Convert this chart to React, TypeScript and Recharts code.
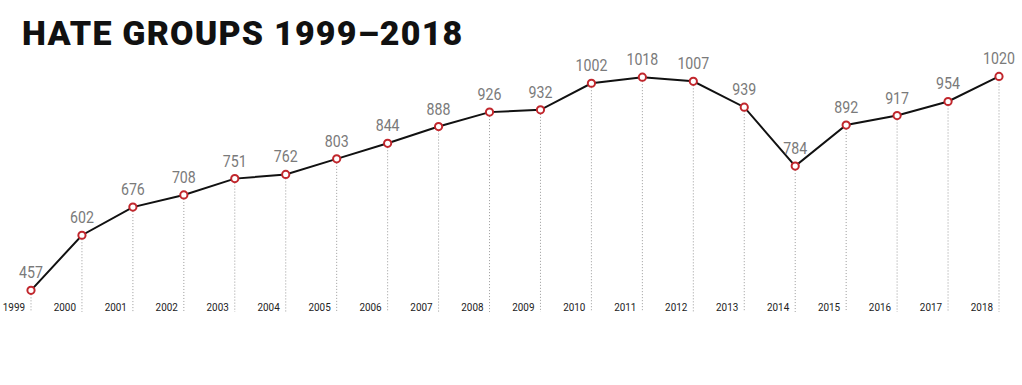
import { LineChart, Line, XAxis, YAxis, LabelList } from 'recharts'

const years = [1999, 2000, 2001, 2002, 2003, 2004, 2005, 2006, 2007, 2008, 2009, 2010, 2011, 2012, 2013, 2014, 2015, 2016, 2017, 2018]
const groups = [457, 602, 676, 708, 751, 762, 803, 844, 888, 926, 932, 1002, 1018, 1007, 939, 784, 892, 917, 954, 1020]

const data = years.map((year, i) => ({ year, groups: groups[i] }))

const RED = '#c1272d'
const PLOT_BOTTOM = 312
const NARROW = "'Liberation Sans Narrow', 'Roboto', sans-serif"

// dot plus the dotted drop line down to the axis
const DropDot = (props: any) => {
  const { cx, cy, index } = props
  return (
    <g key={`dot-${index}`}>
      <line x1={cx} x2={cx} y1={cy + 4} y2={PLOT_BOTTOM} stroke="#9a9a9a" strokeWidth={1} strokeDasharray="1 2" />
      <circle cx={cx} cy={cy} r={3.6} fill="#fff" stroke={RED} strokeWidth={2} />
    </g>
  )
}

const YearTick = (props: any) => {
  const { x, y, payload } = props
  return (
    <text transform={`translate(${x - 6},${y - 9}) scale(0.9,1)`} textAnchor="end" fontSize={11} fill="#222"
      fontFamily={NARROW}>
      {payload.value}
    </text>
  )
}

const ValueLabel = (props: any) => {
  const { x, y, width, value } = props
  const cx = x + (width || 0) / 2
  return (
    <text transform={`translate(${cx},${y - 12}) scale(0.86,1)`} textAnchor="middle" fontSize={16.5}
      fill="#7a7a7a" fontFamily={NARROW}>
      {value}
    </text>
  )
}

export default function App() {
  return (
    <div style={{ position: 'absolute', left: 0, top: 0, width: 1022, height: 385, background: '#fff' }}>
      <div style={{
        position: 'absolute', left: 22, top: 13, fontFamily: 'Roboto, sans-serif', fontWeight: 900,
        fontSize: 34, letterSpacing: 1.2, color: '#111', lineHeight: '40px', whiteSpace: 'nowrap'
      }}>
        HATE GROUPS 1999–2018
      </div>
      <LineChart width={1022} height={385} data={data} margin={{ top: 46, right: 23, bottom: 43, left: 31 }}>
        <XAxis dataKey="year" type="number" domain={[1999, 2018]} ticks={years} axisLine={false} tickLine={false}
          tick={<YearTick />} height={30} interval={0} />
        <YAxis type="number" domain={[400, 1100]} hide />
        <Line type="linear" dataKey="groups" stroke="#111" strokeWidth={2} dot={<DropDot />}
          activeDot={false} isAnimationActive={false}>
          <LabelList dataKey="groups" content={<ValueLabel />} />
        </Line>
      </LineChart>
    </div>
  )
}
